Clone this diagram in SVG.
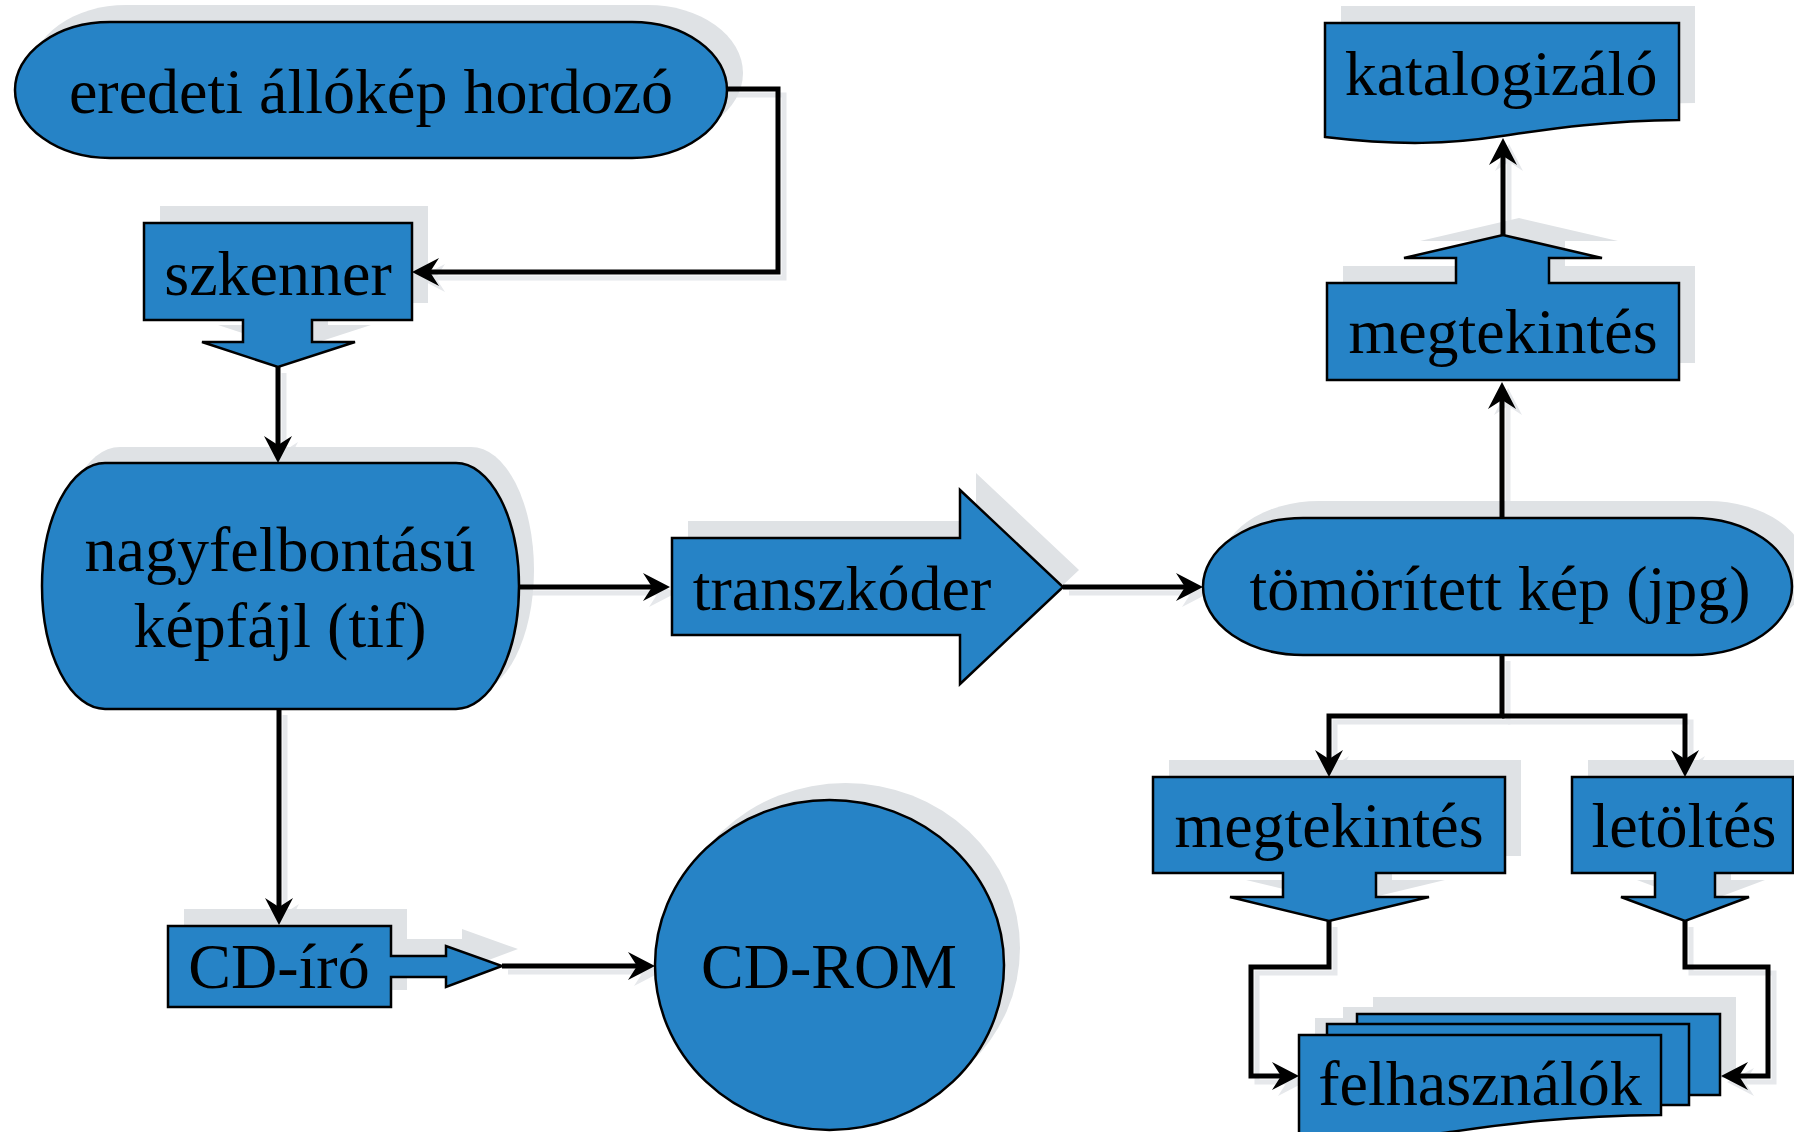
<svg xmlns="http://www.w3.org/2000/svg" xmlns:xlink="http://www.w3.org/1999/xlink" width="1794" height="1132" viewBox="0 0 1794 1132">
<style>
.sh{fill:#dfe2e5;stroke:none}
.nd{fill:#2683c6;stroke:#000;stroke-width:2.5;stroke-linejoin:miter}
.lbl{font-family:"Liberation Serif","Times New Roman",serif;font-size:64px;fill:#000;text-anchor:middle}
.cn{fill:none;stroke:#000;stroke-width:5;stroke-linejoin:miter}
.cs{fill:none;stroke:#e6e8eb;stroke-width:5}
</style>
<defs>
<marker id="ah" viewBox="-30 -16 32 32" refX="-10" refY="0" markerWidth="32" markerHeight="32" markerUnits="userSpaceOnUse" orient="auto">
<path d="M0,0 L-27,-14 L-18,0 L-27,14 Z" fill="#000"/>
</marker>
<marker id="ahs" viewBox="-30 -16 32 32" refX="-10" refY="0" markerWidth="32" markerHeight="32" markerUnits="userSpaceOnUse" orient="auto">
<path d="M0,0 L-27,-14 L-18,0 L-27,14 Z" fill="#e6e8eb"/>
</marker>
<rect id="s1" x="15" y="22" width="712" height="136" rx="95" ry="68"/>
<path id="s2" d="M144,223 H412 V320 H312 V342 H355 L278,367 L202,342 H243 V320 H144 Z"/>
<rect id="s3" x="42" y="463" width="477" height="246" rx="63" ry="123"/>
<path id="s4" d="M672,538 H960 V490 L1063,587 L960,684 V635 H672 Z"/>
<rect id="s5" x="1203" y="518" width="589" height="137" rx="100" ry="68.5"/>
<path id="s6" d="M1327,283 H1456 V258 H1404 L1503,235 L1602,258 H1549 V283 H1679 V380 H1327 Z"/>
<path id="s7" d="M1325,23 H1679 V120 C1600,121 1550,129 1502,136 C1450,144 1400,146 1325,137 Z"/>
<path id="s8" d="M1153,777 H1505 V873 H1376 V897 H1429 L1329,921 L1230,897 H1283 V873 H1153 Z"/>
<path id="s9" d="M1572,777 H1793 V873 H1715 V897 H1749 L1685,921 L1621,897 H1655 V873 H1572 Z"/>
<path id="s10a" d="M1357,1014 H1720 V1095 H1357 Z"/>
<path id="s10b" d="M1327,1024 H1689 V1105 H1327 Z"/>
<path id="s10c" d="M1299,1035 H1661 V1115 C1560,1116 1500,1125 1450,1132 C1400,1139 1350,1142 1299,1138 Z"/>
<path id="s11" d="M168,926 H391 V956 H446 V946 L502,966 L446,987 V977 H391 V1007 H168 Z"/>
<ellipse id="s12" cx="829.5" cy="965" rx="174.5" ry="165"/>
</defs>
<rect width="1794" height="1132" fill="#fff"/>

<g id="connector-shadows">
<g transform="translate(6,6)">
<path class="cs" marker-end="url(#ahs)" d="M727,89 H778 V272 H422"/>
<path class="cs" marker-end="url(#ahs)" d="M278,367 V453"/>
<path class="cs" marker-end="url(#ahs)" d="M519,587 H660"/>
<path class="cs" marker-end="url(#ahs)" d="M1063,587 H1193"/>
<path class="cs" marker-end="url(#ahs)" d="M1502,518 V392"/>
<path class="cs" marker-end="url(#ahs)" d="M1503,235 V148"/>
<path class="cs" marker-end="url(#ahs)" d="M1502,655 V716 H1329 V767"/>
<path class="cs" marker-end="url(#ahs)" d="M1502,716 H1685 V767"/>
<path class="cs" marker-end="url(#ahs)" d="M1329,921 V967 H1251 V1076 H1289"/>
<path class="cs" marker-end="url(#ahs)" d="M1685,921 V967 H1768 V1076 H1731"/>
<path class="cs" marker-end="url(#ahs)" d="M279,709 V915"/>
<path class="cs" marker-end="url(#ahs)" d="M502,966 H645"/>
</g>
</g>

<g id="n-eredeti"><use xlink:href="#s1" class="sh" transform="translate(16,-17)"/><use xlink:href="#s1" class="nd"/><text class="lbl" x="371" y="113">eredeti állókép hordozó</text></g>
<g id="n-szkenner"><use xlink:href="#s2" class="sh" transform="translate(16,-17)"/><use xlink:href="#s2" class="nd"/><text class="lbl" x="278" y="295">szkenner</text></g>
<g id="n-tif"><use xlink:href="#s3" class="sh" transform="translate(15,-16)"/><use xlink:href="#s3" class="nd"/><text class="lbl" x="280" y="571">nagyfelbontású</text><text class="lbl" x="280" y="647">képfájl (tif)</text></g>
<g id="n-transzkoder"><use xlink:href="#s4" class="sh" transform="translate(16,-17)"/><use xlink:href="#s4" class="nd"/><text class="lbl" x="842" y="610">transzkóder</text></g>
<g id="n-jpg"><use xlink:href="#s5" class="sh" transform="translate(16,-17)"/><use xlink:href="#s5" class="nd"/><text class="lbl" x="1500" y="610">tömörített kép (jpg)</text></g>
<g id="n-megtekintes1"><use xlink:href="#s6" class="sh" transform="translate(16,-17)"/><use xlink:href="#s6" class="nd"/><text class="lbl" x="1503" y="353">megtekintés</text></g>
<g id="n-katalogizalo"><use xlink:href="#s7" class="sh" transform="translate(16,-17)"/><use xlink:href="#s7" class="nd"/><text class="lbl" x="1501" y="95">katalogizáló</text></g>
<g id="n-megtekintes2"><use xlink:href="#s8" class="sh" transform="translate(16,-17)"/><use xlink:href="#s8" class="nd"/><text class="lbl" x="1329" y="847">megtekintés</text></g>
<g id="n-letoltes"><use xlink:href="#s9" class="sh" transform="translate(16,-17)"/><use xlink:href="#s9" class="nd"/><text class="lbl" x="1684" y="847">letöltés</text></g>
<g id="n-felhasznalok">
<use xlink:href="#s10a" class="sh" transform="translate(16,-17)"/><use xlink:href="#s10b" class="sh" transform="translate(16,-17)"/><use xlink:href="#s10c" class="sh" transform="translate(16,-17)"/>
<use xlink:href="#s10a" class="nd"/><use xlink:href="#s10b" class="nd"/><use xlink:href="#s10c" class="nd"/>
<text class="lbl" x="1480" y="1105">felhasználók</text></g>
<g id="n-cdiro"><use xlink:href="#s11" class="sh" transform="translate(16,-17)"/><use xlink:href="#s11" class="nd"/><text class="lbl" x="279" y="988">CD-író</text></g>
<g id="n-cdrom"><use xlink:href="#s12" class="sh" transform="translate(16,-17)"/><use xlink:href="#s12" class="nd"/><text class="lbl" x="829" y="988">CD-ROM</text></g>

<g id="connectors">
<path class="cn" marker-end="url(#ah)" d="M727,89 H778 V272 H422"/>
<path class="cn" marker-end="url(#ah)" d="M278,367 V453"/>
<path class="cn" marker-end="url(#ah)" d="M519,587 H660"/>
<path class="cn" marker-end="url(#ah)" d="M1063,587 H1193"/>
<path class="cn" marker-end="url(#ah)" d="M1502,518 V392"/>
<path class="cn" marker-end="url(#ah)" d="M1503,235 V148"/>
<path class="cn" marker-end="url(#ah)" d="M1502,655 V716 H1329 V767"/>
<path class="cn" marker-end="url(#ah)" d="M1502,716 H1685 V767"/>
<path class="cn" marker-end="url(#ah)" d="M1329,921 V967 H1251 V1076 H1289"/>
<path class="cn" marker-end="url(#ah)" d="M1685,921 V967 H1768 V1076 H1731"/>
<path class="cn" marker-end="url(#ah)" d="M279,709 V915"/>
<path class="cn" marker-end="url(#ah)" d="M502,966 H645"/>
</g>
</svg>
